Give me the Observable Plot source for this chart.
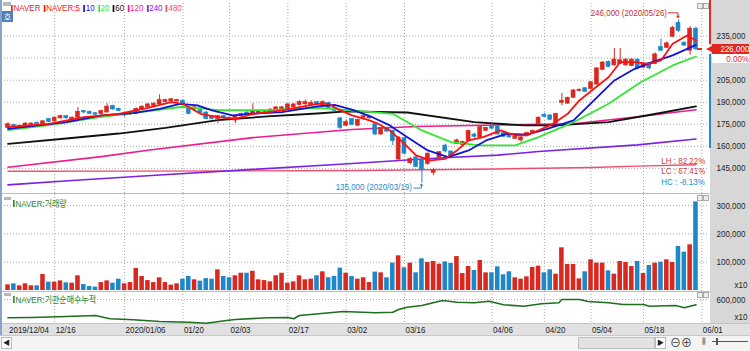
<!DOCTYPE html>
<html><head><meta charset="utf-8">
<script src="https://cdn.jsdelivr.net/npm/d3@7"></script>
<script src="https://cdn.jsdelivr.net/npm/@observablehq/plot@0.6"></script>
<style>
body{margin:0;background:#fff;}
#wrap{position:relative;width:750px;height:351px;overflow:hidden;background:#fff;font-family:"Liberation Sans","Noto Sans CJK KR",sans-serif;font-size:9.5px;color:#222;}
#wrap svg{position:absolute;left:0;}
.abs{position:absolute;}
.mk{display:inline-block;width:2px;height:7px;margin-right:1px;}
.kr{font-family:"Noto Sans CJK KR",sans-serif;font-size:9.5px;}
.nl{transform:scaleX(0.84);transform-origin:left center;}
.nr{display:inline-block;transform:scaleX(0.84);transform-origin:right center;}
</style></head><body><div id="wrap"></div><script>
// ---------- data ----------
const tickIdx  = [0, 8, 20, 30, 38, 48, 58, 68, 83, 92, 100, 109, 119];
const tickText = ["2019/12/04","12/16","2020/01/06","01/20","02/03","02/17","03/02","03/16","04/06","04/20","05/04","05/18","06/01"];
const priceGrid = [145000,160000,175000,190000,205000,220000,235000];
const priceLabels = [145000,160000,175000,190000,205000,235000];
const volTicks = [100000,200000,300000];
const instTicks = [600000];
const hiDate = "2020/05/26", loDate = "2020/03/19";

const opens = [172500,174500,173000,173500,174500,176000,175000,178500,177000,179000,180500,177500,179500,184000,183500,182500,182000,183000,187500,185500,
181000,182000,182000,185000,186500,187500,188500,190000,190500,190500,191000,186000,185000,184500,183000,180500,178500,180500,179500,177500,
180500,183000,181500,182500,183500,183000,184000,185000,185000,186500,188000,188500,188000,190000,188000,189500,186000,179000,174000,178500,
174000,179500,179000,175000,168000,172500,170500,151000,165500,148500,152500,150500,148000,142000,152000,160500,156500,161500,161000,163500,
168000,166000,170500,174000,173500,169000,168000,165000,164000,167000,169000,175000,181500,181000,175500,189500,189000,193000,197500,199500,
199000,202000,212000,217500,215000,216000,215000,214500,219000,213500,216500,216000,227500,227000,234500,244000,230500,225000,240000];
const highs = [176000,175000,174500,176000,176000,176500,177500,179000,180000,181000,181000,180000,186500,184500,184000,183000,184500,189000,188000,186000,
182500,183500,186000,187500,189000,189500,195000,192000,192500,192000,191500,186500,187000,185000,183500,181000,181000,181000,180000,181000,
182500,183500,189000,184500,184500,185500,187000,187000,189000,189000,191000,191500,191000,190500,191000,190000,186500,179500,178000,179000,
178500,181500,181000,175500,173000,173000,171000,166500,166000,152500,153500,152000,155500,145000,156500,161500,157000,165000,163500,171000,
169000,173500,173000,175500,174000,169500,168500,167000,166500,169500,171000,180000,182500,181500,182500,196000,193500,198500,199000,200000,
204000,213500,217500,218000,226500,226500,219500,219500,219500,217000,217000,223500,233000,231000,241500,246000,231000,241500,241000];
const lows = [172000,172500,172500,173000,174000,174500,174500,176000,176500,178500,178500,177000,179000,182000,181500,181000,181500,182500,184500,183500,
180000,181000,181500,184500,186000,187000,188000,189500,190000,190000,187500,181500,184500,182000,178000,178000,175500,178500,178000,175500,
180000,181000,181000,182000,183000,182500,183500,184500,184500,186000,187500,188000,187500,187500,187500,185500,183500,171500,173500,174000,
173500,179000,178500,167500,167500,169500,160500,150000,154000,147500,145500,135000,147000,140000,151500,155500,152500,161000,160500,163000,
165500,165500,170000,171500,167500,166000,165500,164500,162500,166500,168500,174500,179500,177500,175000,187500,188500,192500,197000,196500,
198500,201500,211500,213500,214500,215500,214500,214000,212000,213000,212000,215500,224500,226500,234000,237500,228000,222000,225000];
const closes = [175000,173000,174000,175500,175500,175000,177000,176500,179500,180500,179000,179500,183500,183000,182000,181500,184000,187000,185000,184000,
182000,183000,185500,187000,188500,189000,191500,191500,192000,191500,188000,182000,186500,182500,178500,178500,180500,179000,178500,180500,
182000,181500,184000,184000,184000,185000,186500,186500,188500,188500,190000,190000,189500,188000,190000,186000,184000,172500,176500,174500,
178000,180500,180000,168000,172500,170000,163500,166000,155000,151500,146000,144000,155000,143500,156000,156500,153000,164000,163000,170500,
166500,173000,172500,172000,168000,166500,166000,166500,166000,169000,170500,179500,180000,178000,182000,191000,193000,198000,198500,197000,
203500,213000,217000,214000,219000,218500,219000,219000,213000,216000,213000,222500,225000,230000,240500,238500,228500,240000,226000];
// volume (x10)
const volumes = [20000,23600,16500,23600,16500,16500,56500,29500,29500,34000,27000,26000,52000,21000,14000,12000,28000,34000,26000,40000,
23600,28000,78000,49500,35000,28000,45000,28000,19000,23600,40000,49500,37700,33000,42000,40000,73000,49500,45000,52000,
61000,61000,68000,37700,35000,30600,52000,61000,26000,30600,52000,37700,40000,52000,66000,45000,49500,79000,61000,49500,
40000,45000,28000,65000,62400,44800,96600,122500,80000,96600,62400,112000,99000,102500,93000,101000,95400,120000,60000,84800,
70700,106000,62400,62400,83600,55400,66000,44800,40000,48300,81300,86000,62400,73000,57700,150800,91900,91900,41200,66000,
108400,96600,96600,69500,57700,102500,99000,84800,102500,60000,88400,96600,100000,108400,99000,155500,135500,161400,313000];
// moving averages (day index, price)
const ma5Day = [0,7,13,19,24,28,30,33,36,39,42,47,53,55,56.5,59,62,63.5,65.5,68,70,72.5,75,77,79,81.5,84.5,87,89,91,93.5,96,98,100.5,103,105,107.5,110,112,114,116.5,118];
const ma5Val = [173000,175300,179800,182100,186200,190000,188900,182100,179800,178700,182000,184400,188900,188900,185500,181000,177600,175300,170800,161700,153800,150400,151500,157200,164000,166200,170800,167400,167400,170800,175300,182100,191200,199100,207000,217200,217200,216100,218400,229700,235400,232000];
const ma10Day = [0,10,16,21.5,26,29.5,32.5,35,38.5,41.5,47,53,56,59,62.5,65.5,68.5,72,75.5,79,82,85.5,89,92.5,97,100.5,104,107.5,110.5,114,118];
const ma10Val = [171900,176400,181000,182500,185500,188900,187800,184400,181000,182100,183200,187100,188100,185000,179800,174200,166200,157200,152600,157200,164000,168500,168000,171900,177600,191200,204800,212700,217200,221800,229000];
const ma20Day = [0,7,16,23,30,36,44.5,53,58,66,71,76,81,87,91,97,103,108.5,114,118];
const ma20Val = [171000,174400,180100,183500,186900,184600,184600,186200,184700,182100,170800,162800,160600,160600,166200,176400,188900,203600,215000,221100];
const ma60Day = [0,10,19,27,36,44.5,53,58,68.5,80,88.5,94,103,110,118];
const ma60Val = [161600,165300,168700,172600,177800,180300,182300,183700,183000,176400,174200,174200,176400,181300,187100];
const ma120Day = [0,16,24,42,59,70,84,97,108,118];
const ma120Val = [145800,153000,157300,165900,171400,173500,174500,175300,180100,184900];
const ma240Day = [0,11,26,42,57,74,84,91,108,118];
const ma240Val = [133800,136800,140500,144300,147800,152000,154000,156500,161000,165000];
const ma480Day = [0,20,42,60,84,100,108,118];
const ma480Val = [143000,143100,143300,143600,144600,145600,146500,147500];
// institutional net buying, cumulative (x10)
const instDay = [0,4,10,15,17.5,21.5,26,31,34,37.5,39,44.5,48,49,50,57.5,63,66,67,68.5,71,74.5,77,80,82.5,85,88.5,91.5,94.5,95,98,99.5,103,105.5,109,110,114.5,116,118];
const instVal = [508500,510000,515000,520000,503500,498500,490000,486500,481500,495000,500000,508500,510000,503500,520000,540000,533500,536500,550000,561500,570000,595000,586500,583500,591500,573500,566500,578500,583500,600000,600000,590000,583500,575000,575000,566500,570000,558500,573500];

// ---------- styling ----------
const UP = "#d9281f", DOWN = "#1d87c8";
const C5="#ff1010", C10="#1212d8", C20="#33e633", C60="#111111", C120="#ee1c8c", C240="#7a22e6", C480="#f24c6c";
const FONT = '"Liberation Sans","Noto Sans CJK KR",sans-serif';
const GRID = {stroke:"#a8a8a8", strokeDasharray:"1,2", strokeWidth:1};
const fmt = d3.format(",");
const bars = d3.range(opens.length).map(i => ({i, o:opens[i], h:highs[i], l:lows[i], c:closes[i], v:volumes[i]}));
const colOf = d => d.c >= d.o ? UP : DOWN;
const ser = (ds, vs) => ds.map((d,k) => ({i:d, v:vs[k]}));
const X = {domain:[0,119], range:[7.5,701.3], axis:null};
const base = {width:750, marginLeft:4, marginRight:42, marginTop:0, marginBottom:0,
  style:{background:"transparent", fontFamily:FONT, fontSize:"9.5px", overflow:"visible"}};

const wrap = document.getElementById("wrap");
function div(css, html, cls){ const e=document.createElement("div"); e.className="abs"+(cls?" "+cls:""); e.style.cssText=css; if(html!=null) e.innerHTML=html; wrap.appendChild(e); return e; }

// background pieces
div("left:710px;top:0;width:40px;height:323px;background:#d7d7d7;");
div("left:0;top:323px;width:750px;height:12px;background:#e1e1e1;border-top:1px solid #c4c4c4;box-sizing:border-box;");
div("left:0;top:0;width:2px;height:335px;background:#8aa4c8;");

// ---------- main price panel ----------
const main = Plot.plot({...base, height:194, marginTop:3,
  x:X, y:{domain:[126550,256440], range:[195,4], axis:null},
  marks:[
    Plot.ruleY(priceGrid, GRID),
    Plot.ruleX(tickIdx.slice(1), GRID),
    Plot.line(ser(ma480Day, ma480Val), {x:"i", y:"v", stroke:C480, strokeWidth:1.4}),
    Plot.line(ser(ma240Day, ma240Val), {x:"i", y:"v", stroke:C240, strokeWidth:1.6}),
    Plot.line(ser(ma120Day, ma120Val), {x:"i", y:"v", stroke:C120, strokeWidth:1.6}),
    Plot.line(ser(ma60Day, ma60Val), {x:"i", y:"v", stroke:C60, strokeWidth:1.8}),
    Plot.ruleX(bars, {x:"i", y1:"l", y2:"h", stroke:colOf, strokeWidth:1}),
    Plot.rect(bars, {x1:d=>d.i-0.34, x2:d=>d.i+0.34, y1:"o", y2:"c", fill:colOf, stroke:colOf, strokeWidth:0.6}),
    Plot.line(ser(ma20Day, ma20Val), {x:"i", y:"v", stroke:C20, strokeWidth:1.8}),
    Plot.line(ser(ma10Day, ma10Val), {x:"i", y:"v", stroke:C10, strokeWidth:1.8}),
    Plot.line(ser(ma5Day, ma5Val), {x:"i", y:"v", stroke:C5, strokeWidth:1.8}),
    Plot.text(priceLabels, {y:d=>d, text:d=>fmt(d), frameAnchor:"right", textAnchor:"start", dx:8, fill:"#222", fontSize:9.5})
  ]});
main.style.top = "0px"; wrap.appendChild(main);

// annotations via the plot's own scales
{
  const sx = main.scale("x"), sy = main.scale("y"), g = d3.select(main);
  const hiV = d3.max(highs), hiI = highs.indexOf(hiV);
  const loV = d3.min(lows), loI = lows.indexOf(loV);
  const hx = sx.apply(hiI), hy = sy.apply(hiV), lx = sx.apply(loI), ly = sy.apply(loV);
  const hc = "#c8322a", lc = "#2a88cc";
  g.append("text").attr("x", hx-11).attr("y", hy-3.2).attr("text-anchor","end").attr("fill",hc).attr("font-size",9.5).text(`${fmt(hiV)} (${hiDate})`);
  g.append("path").attr("d",`M${hx-10},${hy-6.5}H${hx}V${hy-2}`).attr("fill","none").attr("stroke",hc);
  g.append("path").attr("d",`M${hx-2},${hy-3.5}L${hx+2},${hy-3.5}L${hx},${hy-0.8}Z`).attr("fill",hc);
  g.append("text").attr("x", lx-9.5).attr("y", ly+7.4).attr("text-anchor","end").attr("fill",lc).attr("font-size",9.5).text(`${fmt(loV)} (${loDate})`);
  g.append("path").attr("d",`M${lx-8},${ly+5.5}H${lx}V${ly+2}`).attr("fill","none").attr("stroke",lc);
  g.append("path").attr("d",`M${lx-2},${ly+3.2}L${lx+2},${ly+3.2}L${lx},${ly+0.6}Z`).attr("fill",lc);

  const last = closes[closes.length-1];
  const cy = sy.apply(last);
  div(`left:709px;top:0;width:2px;height:${cy-5}px;background:#e02a20;`);
  div(`left:709px;top:${cy+5}px;width:2px;height:${148-cy-5}px;background:#2a8ad0;`);
  div(`left:712px;top:${cy-5}px;width:37px;height:10px;background:#e0261e;color:#fff;text-align:right;line-height:10px;font-size:9.5px;overflow:hidden;`, `<span class="nr">${fmt(last)}</span>`);
  div(`left:706px;top:${cy-3}px;width:0;height:0;border-top:3px solid transparent;border-bottom:3px solid transparent;border-right:6px solid #e0261e;`);
  div(`left:712px;top:${cy+5}px;width:37px;height:9px;background:#fff;color:#e0261e;text-align:right;line-height:9px;font-size:9.5px;overflow:hidden;`, `<span class="nr">0.00%</span>`);
  div(`left:${sx.apply(closes.length-1)+2}px;top:${cy-0.5}px;width:5px;height:1.5px;background:#e0261e;`);

  const LH = (hiV-loV)/loV*100, LC = (last-loV)/loV*100, HC = (last-hiV)/hiV*100;
  div("left:630px;top:155.5px;width:75px;text-align:right;color:#c84040;line-height:10px;", `<span class="nr">LH : ${LH.toFixed(2)}%</span>`);
  div("left:630px;top:166px;width:75px;text-align:right;color:#c84040;line-height:10px;", `<span class="nr">LC : ${LC.toFixed(2)}%</span>`);
  div("left:630px;top:176.5px;width:75px;text-align:right;color:#2a8ad0;line-height:10px;", `<span class="nr">HC : ${HC.toFixed(2)}%</span>`);
}

// ---------- volume panel ----------
const vol = Plot.plot({...base, height:97,
  x:X, y:{domain:[0,339200], range:[96,0], axis:null},
  marks:[
    Plot.ruleY(volTicks, GRID),
    Plot.ruleX(tickIdx.slice(1), GRID),
    Plot.rect(bars, {x1:d=>d.i-0.39, x2:d=>d.i+0.39, y1:0, y2:"v", fill:colOf}),
    Plot.text(volTicks, {y:d=>d, text:d=>fmt(d), frameAnchor:"right", textAnchor:"start", dx:8, fill:"#222", fontSize:9.5}),
    Plot.text(["x10"], {frameAnchor:"bottom-right", textAnchor:"end", dx:39, dy:-4, fill:"#222", fontSize:9.5})
  ]});
vol.style.top = "194px"; wrap.appendChild(vol);

// ---------- institutional cumulative panel ----------
const inst = Plot.plot({...base, height:32,
  x:X, y:{domain:[480000,640000], range:[32,0], axis:null},
  marks:[
    Plot.ruleY(instTicks, GRID),
    Plot.ruleX(tickIdx.slice(1), GRID),
    Plot.line(ser(instDay, instVal), {x:"i", y:"v", stroke:"#1e6e1e", strokeWidth:1.6}),
    Plot.text(instTicks, {y:d=>d, text:d=>fmt(d), frameAnchor:"right", textAnchor:"start", dx:8, fill:"#222", fontSize:9.5}),
    Plot.text(["x10"], {frameAnchor:"bottom-right", textAnchor:"end", dx:39, dy:-4, fill:"#222", fontSize:9.5})
  ]});
inst.style.top = "291px"; wrap.appendChild(inst);

// ---------- date axis ----------
const ax = Plot.plot({...base, height:12, x:X, y:{domain:[0,1], axis:null},
  marks:[ Plot.text(tickIdx, {x:d=>d, text:(d,k)=>tickText[k], frameAnchor:"middle", textAnchor:"start", dx:1, fill:"#222", fontSize:9.5}) ]});
ax.style.top = "323px"; wrap.appendChild(ax);

// condense all svg text to the narrow look of the original
wrap.querySelectorAll("svg text").forEach(t => {
  const L = t.getComputedTextLength();
  if (L > 0) { t.setAttribute("textLength", (L*0.84).toFixed(2)); t.setAttribute("lengthAdjust","spacingAndGlyphs"); }
});

// panel separators
div("left:2px;top:193px;width:708px;height:1px;background:#bdbdbd;");
div("left:2px;top:290.5px;width:708px;height:1px;background:#bdbdbd;");

// ---------- legends ----------
const leg = [["NAVER",UP],["NAVER:5",C5],["10",C10],["20",C20],["60",C60],["120",C120],["240",C240],["480",C480]];
div("left:11px;top:3px;display:flex;gap:4px;line-height:10px;white-space:nowrap;", leg.map(([t,c])=>`<span style="display:flex;align-items:center"><span class="mk" style="background:${c}"></span><span style="color:${c}">${t}</span></span>`).join(""), "nl");
div("left:3px;top:2px;width:8px;height:4px;background:#b8b8b8;");
div("left:2px;top:11px;width:11px;height:11px;background:#4f7fb6;color:#fff;font-family:'Noto Sans CJK KR';font-size:8px;line-height:11px;text-align:center;", "호");
div("left:4px;top:197px;width:7px;height:3px;background:#b8b8b8;");
div("left:13px;top:198px;display:flex;align-items:center;color:#2c8a2c;line-height:11px;white-space:nowrap;", `<span class="mk" style="background:#2c8a2c"></span>NAVER:<span class="kr">거래량</span>`, "nl");
div("left:4px;top:293px;width:7px;height:3px;background:#b8b8b8;");
div("left:13px;top:294px;display:flex;align-items:center;color:#2c8a2c;line-height:11px;white-space:nowrap;", `<span class="mk" style="background:#2c8a2c"></span>NAVER:<span class="kr">기관순매수누적</span>`, "nl");
for (const t of [3,195,292]) { div(`left:697px;top:${t}px;width:4px;height:4px;border:1px solid #aaa;background:#eee;`); div(`left:703px;top:${t}px;width:4px;height:4px;border:1px solid #aaa;background:#eee;`); }

// ---------- scroll bar ----------
div("left:0;top:335px;width:750px;height:16px;background:#f4f4f4;border-top:1px solid #c8c8c8;box-sizing:border-box;");
div("left:1px;top:337px;width:11px;height:12px;background:#fff;border:1px solid #bbb;box-sizing:border-box;font-size:7px;line-height:10px;text-align:center;", "◀");
div("left:578px;top:337px;width:77px;height:12px;background:#e2e2e2;border:1px solid #c0c0c0;box-sizing:border-box;");
div("left:655px;top:337px;width:11px;height:12px;background:#fff;border:1px solid #bbb;box-sizing:border-box;font-size:7px;line-height:10px;text-align:center;", "▶");
div("left:670px;top:336px;font-size:11px;line-height:14px;color:#333;", "⊖⊕");
div("left:702px;top:337px;font-size:8px;line-height:10px;color:#333;", "⫼");
div("left:712px;top:341px;width:36px;height:1px;background:#555;");
div("left:716px;top:338px;width:2px;height:7px;background:#555;");
</script></body></html>
